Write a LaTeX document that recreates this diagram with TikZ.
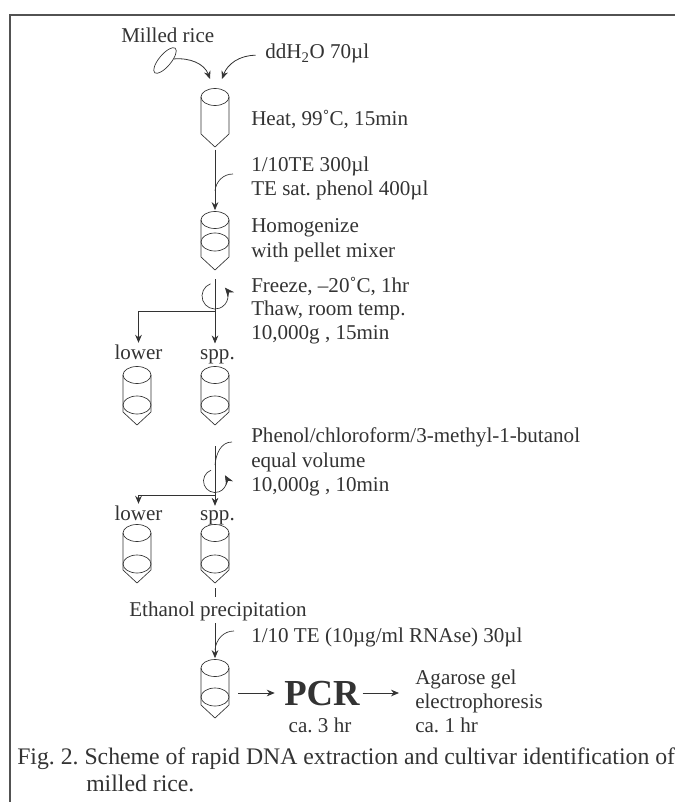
\documentclass[tikz,border=0pt]{standalone}
\usepackage{fontspec}
\setmainfont{Liberation Serif}
\usetikzlibrary{arrows.meta,shapes.geometric}
\definecolor{ink}{HTML}{333333}
\frenchspacing
\tikzset{
	flow/.style={ink, line width=0.6pt, -{Stealth[length=6pt,width=5pt]}},
	spin/.style={ink, line width=0.5pt, -{Stealth[length=7pt,width=6pt]}},
	feed/.style={ink, line width=0.5pt},
	label/.style={anchor=base west, inner sep=0pt, text=ink, font=\fontsize{15.8}{18}\selectfont},
	tag/.style={anchor=base, inner sep=0pt, text=ink, font=\fontsize{15.8}{18}\selectfont},
	caption/.style={anchor=base west, inner sep=0pt, text=ink, font=\fontsize{17.8}{20}\selectfont},
	pics/tube/.style={code={
		\draw[ink, line width=0.5pt] (0,0) ellipse [x radius=14, y radius=8.5];
		\draw[ink, line width=0.5pt] (-14,0) -- (-14,37) -- (0,50) -- (14,37) -- (14,0);
		\coordinate (-top) at (0,-8.5);
		\coordinate (-tip) at (0,50);
	}},
	pics/ringtube/.style={code={
		\draw[ink, line width=0.5pt] (0,0) ellipse [x radius=14, y radius=8.5];
		\draw[ink, line width=0.5pt] (0,#1) ellipse [x radius=14, y radius=9];
		\draw[ink, line width=0.5pt] (-14,0) -- (-14,37) -- (0,50) -- (14,37) -- (14,0);
		\coordinate (-top) at (0,-8.5);
		\coordinate (-tip) at (0,50);
	}}
}
\begin{document}
\begin{tikzpicture}[x=0.75pt, y=-0.75pt]
	\useasboundingbox[clip] (0,0) rectangle (675,802);

	% Frame
	\draw[ink!85, line width=1.1pt] (10,802) -- (10,15) -- (675,15);

	% Start
	\node[label] (rice) at (121,43) {Milled rice};
	\node[label] (water) at (265,59) {ddH\textsubscript{2}O 70µl};
	\node[draw=ink, line width=0.5pt, ellipse, inner sep=0pt, minimum width=24pt, minimum height=9pt, rotate=50] (grain) at (165,60.5) {};
	\pic (t1) at (215,97) {tube};
	\coordinate (in1) at (210,79);
	\coordinate (in2) at (222,79);
	\draw[flow] (grain.320) to[out=5, in=110] (in1);
	\draw[flow] ([xshift=-7pt,yshift=-1pt]water.west) to[out=180, in=70] (in2);
	\node[label] (heat) at (251,126) {Heat, 99˚C, 15min};

	% Homogenize
	\node[label] (te1) at (251,172) {1/10TE 300µl};
	\node[label] (phenol) at (251,196) {TE sat. phenol 400µl};
	\pic (t2) at (215,220) {ringtube=22};
	\node[label] (homog) at (251,233) {Homogenize};
	\node[label] (mixer) at (251,257) {with pellet mixer};
	\draw[flow, shorten <=2pt, shorten >=1pt] (t1-tip) -- (t2-top);
	\coordinate (add1) at (233,174);
	\coordinate (join1) at (215,191);
	\draw[feed] (add1) to[out=180, in=85] (join1);

	% First spin
	\node[label] (freeze) at (251,292) {Freeze, –20˚C, 1hr};
	\node[label] (thaw) at (251,315) {Thaw, room temp.};
	\node[label] (spin1) at (251,339) {10,000g , 15min};
	\node[tag] (low1) at (138.5,359) {lower};
	\node[tag] (spp1) at (217.5,359) {spp.};
	\coordinate (rot1) at (215,296);
	\coordinate (fork1) at (215,311);
	\draw[flow, shorten <=7pt, shorten >=4pt] (t2-tip) -- (t2-tip |- spp1.north);
	\draw[flow, shorten >=1pt] (fork1) -| (low1.north);
	\draw[spin] ([shift={(-110:13)}]rot1) arc[start angle=-110, end angle=-400, radius=13];
	\pic (t3) at (137,375) {ringtube=30};
	\pic (t4) at (215,375) {ringtube=30};

	% Second spin
	\node[label] (mix) at (251,442) {Phenol/chloroform/3-methyl-1-butanol};
	\node[label] (equal) at (251,467) {equal volume};
	\node[label] (spin2) at (251,491) {10,000g , 10min};
	\node[tag] (low2) at (138.5,520) {lower};
	\node[tag] (spp2) at (217.5,520) {spp.};
	\coordinate (add2) at (232,442);
	\coordinate (join2) at (215,465);
	\coordinate (rot2) at (215,481);
	\coordinate (fork2) at (215,495);
	\draw[flow, shorten <=16pt, shorten >=3pt] (t4-tip) -- (t4-tip |- spp2.north);
	\draw[feed] (add2) to[out=180, in=85] (join2);
	\draw[flow, shorten >=1pt] (fork2) -| (low2.north);
	\draw[spin] ([shift={(-110:11.5)}]rot2) arc[start angle=-110, end angle=-390, radius=11.5];
	\pic (t5) at (137,533) {ringtube=31};
	\pic (t6) at (215,533) {ringtube=31};

	% Precipitation
	\node[tag] (etoh) at (218,616) {Ethanol precipitation};
	\draw[feed, shorten <=4pt, shorten >=3pt] (t6-tip) -- (t6-tip |- etoh.north);
	\node[label] (rnase) at (251,642) {1/10 TE (10µg/ml RNAse) 30µl};
	\pic (t7) at (215,668) {ringtube=29};
	\coordinate (out1) at (215,623);
	\coordinate (add3) at (234,631);
	\coordinate (join3) at (215,650);
	\draw[flow, shorten >=1pt] (out1) -- (t7-top);
	\draw[feed] (add3) to[out=180, in=85] (join3);

	% PCR
	\node[anchor=base, inner sep=0pt, text=ink, font=\fontsize{27.5}{30}\selectfont\bfseries] (pcr) at (322,705) {PCR};
	\node[tag] (time1) at (320,732) {ca. 3 hr};
	\node[label] (gel1) at (415,684) {Agarose gel};
	\node[label] (gel2) at (415,708) {electrophoresis};
	\node[label] (time2) at (415,732) {ca. 1 hr};
	\coordinate (from7) at (238,693);
	\draw[flow, shorten >=7pt] (from7) -- (pcr.west |- from7);
	\coordinate (to8) at (399,693);
	\draw[flow, shorten <=2pt] (pcr.east |- to8) -- (to8);

	% Caption
	\node[caption] (cap1) at (17,764) {Fig. 2. Scheme of rapid DNA extraction and cultivar identification of};
	\node[caption] (cap2) at (86,791) {milled rice.};
\end{tikzpicture}
\end{document}
